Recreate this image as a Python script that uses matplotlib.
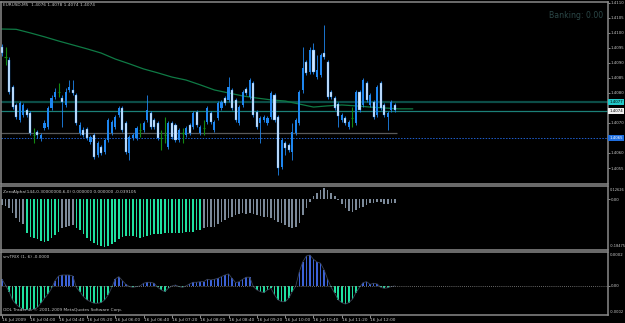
import matplotlib
matplotlib.use("Agg")
import matplotlib.pyplot as plt
import matplotlib.transforms as mtransforms

# EURUSD M5 candles, 16 Jul 2009 03:20 .. 12:35
opens = [1.40953, 1.40920, 1.40910, 1.40820, 1.40760, 1.40710, 1.40727, 1.40743, 1.40733, 1.40660,
         1.40670, 1.40650, 1.40683, 1.40687, 1.40750, 1.40787, 1.40803, 1.40783, 1.40760, 1.40810,
         1.40810, 1.40793, 1.40667, 1.40677, 1.40680, 1.40637, 1.40660, 1.40593, 1.40620, 1.40603,
         1.40643, 1.40667, 1.40687, 1.40727, 1.40750, 1.40700, 1.40600, 1.40650, 1.40650, 1.40677,
         1.40677, 1.40710, 1.40733, 1.40710, 1.40700, 1.40650, 1.40660, 1.40620, 1.40700, 1.40693,
         1.40643, 1.40667, 1.40660, 1.40693, 1.40687, 1.40737, 1.40667, 1.40683, 1.40703, 1.40733,
         1.40677, 1.40717, 1.40750, 1.40783, 1.40777, 1.40810, 1.40777, 1.40700, 1.40760, 1.40813,
         1.40787, 1.40833, 1.40737, 1.40700, 1.40710, 1.40700, 1.40720, 1.40793, 1.40720, 1.40553,
         1.40633, 1.40627, 1.40603, 1.40667, 1.40700, 1.40810, 1.40903, 1.40870, 1.40943, 1.40853,
         1.40860, 1.40933, 1.40903, 1.40803, 1.40783, 1.40763, 1.40710, 1.40717, 1.40687, 1.40717,
         1.40700, 1.40803, 1.40760, 1.40833, 1.40760, 1.40770, 1.40727, 1.40833, 1.40760, 1.40720,
         1.40743, 1.40760]
highs = [1.40963, 1.40953, 1.40920, 1.40827, 1.40767, 1.40773, 1.40767, 1.40750, 1.40740, 1.40683,
         1.40677, 1.40667, 1.40710, 1.40757, 1.40793, 1.40817, 1.40833, 1.40793, 1.40817, 1.40843,
         1.40843, 1.40800, 1.40703, 1.40687, 1.40687, 1.40660, 1.40667, 1.40640, 1.40627, 1.40650,
         1.40717, 1.40710, 1.40727, 1.40757, 1.40757, 1.40707, 1.40660, 1.40667, 1.40690, 1.40700,
         1.40707, 1.40793, 1.40740, 1.40717, 1.40707, 1.40677, 1.40720, 1.40707, 1.40707, 1.40700,
         1.40683, 1.40683, 1.40690, 1.40700, 1.40740, 1.40743, 1.40693, 1.40710, 1.40757, 1.40740,
         1.40710, 1.40773, 1.40777, 1.40790, 1.40853, 1.40817, 1.40783, 1.40760, 1.40810, 1.40820,
         1.40850, 1.40840, 1.40743, 1.40723, 1.40727, 1.40723, 1.40807, 1.40800, 1.40727, 1.40650,
         1.40640, 1.40633, 1.40700, 1.40717, 1.40810, 1.40953, 1.40910, 1.40953, 1.40967, 1.40927,
         1.40933, 1.41027, 1.40910, 1.40810, 1.40790, 1.40770, 1.40733, 1.40723, 1.40710, 1.40753,
         1.40810, 1.40810, 1.40850, 1.40840, 1.40800, 1.40777, 1.40827, 1.40840, 1.40767, 1.40740,
         1.40777, 1.40767]
lows = [1.40923, 1.40893, 1.40797, 1.40747, 1.40713, 1.40703, 1.40720, 1.40720, 1.40660, 1.40633,
        1.40650, 1.40640, 1.40677, 1.40680, 1.40743, 1.40780, 1.40787, 1.40687, 1.40753, 1.40803,
        1.40793, 1.40693, 1.40660, 1.40653, 1.40643, 1.40630, 1.40580, 1.40587, 1.40593, 1.40597,
        1.40637, 1.40660, 1.40680, 1.40720, 1.40670, 1.40597, 1.40577, 1.40643, 1.40643, 1.40653,
        1.40670, 1.40703, 1.40680, 1.40680, 1.40643, 1.40610, 1.40633, 1.40613, 1.40647, 1.40637,
        1.40637, 1.40633, 1.40653, 1.40660, 1.40680, 1.40687, 1.40660, 1.40660, 1.40697, 1.40697,
        1.40670, 1.40710, 1.40743, 1.40760, 1.40770, 1.40743, 1.40703, 1.40693, 1.40753, 1.40793,
        1.40780, 1.40720, 1.40680, 1.40633, 1.40703, 1.40693, 1.40713, 1.40703, 1.40527, 1.40547,
        1.40593, 1.40603, 1.40577, 1.40660, 1.40693, 1.40800, 1.40860, 1.40863, 1.40863, 1.40847,
        1.40853, 1.40913, 1.40780, 1.40780, 1.40743, 1.40687, 1.40703, 1.40693, 1.40680, 1.40687,
        1.40693, 1.40737, 1.40753, 1.40770, 1.40753, 1.40713, 1.40720, 1.40743, 1.40720, 1.40677,
        1.40737, 1.40737]
closes = [1.40933, 1.40920, 1.40803, 1.40753, 1.40720, 1.40767, 1.40760, 1.40727, 1.40667, 1.40660,
          1.40660, 1.40660, 1.40700, 1.40750, 1.40783, 1.40803, 1.40803, 1.40770, 1.40803, 1.40820,
          1.40800, 1.40700, 1.40693, 1.40660, 1.40650, 1.40653, 1.40587, 1.40633, 1.40600, 1.40643,
          1.40710, 1.40703, 1.40720, 1.40750, 1.40677, 1.40603, 1.40653, 1.40660, 1.40683, 1.40677,
          1.40700, 1.40743, 1.40687, 1.40687, 1.40650, 1.40650, 1.40660, 1.40700, 1.40653, 1.40643,
          1.40677, 1.40667, 1.40683, 1.40667, 1.40733, 1.40693, 1.40687, 1.40683, 1.40750, 1.40703,
          1.40703, 1.40767, 1.40770, 1.40767, 1.40820, 1.40750, 1.40710, 1.40753, 1.40803, 1.40800,
          1.40843, 1.40727, 1.40687, 1.40717, 1.40720, 1.40717, 1.40800, 1.40710, 1.40550, 1.40643,
          1.40617, 1.40610, 1.40670, 1.40710, 1.40803, 1.40883, 1.40867, 1.40943, 1.40870, 1.40877,
          1.40927, 1.40920, 1.40787, 1.40787, 1.40750, 1.40723, 1.40727, 1.40700, 1.40703, 1.40717,
          1.40803, 1.40743, 1.40843, 1.40777, 1.40793, 1.40720, 1.40820, 1.40750, 1.40727, 1.40733,
          1.40770, 1.40743]

# shifted moving average, sampled every 4 bars
ma_bars = list(range(0, 117, 4))
ma_values = [1.41013, 1.41012, 1.41000, 1.40987, 1.40973, 1.40960, 1.40947, 1.40933, 1.40913, 1.40897,
             1.40880, 1.40867, 1.40853, 1.40843, 1.40827, 1.40810, 1.40800, 1.40790, 1.40783, 1.40777,
             1.40773, 1.40763, 1.40753, 1.40757, 1.40760, 1.40757, 1.40753, 1.40750, 1.40747, 1.40747]

ask_level = 1.4077
bid_level = 1.4074
gray_level = 1.40667
blue_level = 1.4065
# scale labels that are not hidden under the price boxes
price_ticks = [1.4055, 1.4060, 1.4070, 1.4080, 1.4085, 1.4090, 1.4095, 1.4100, 1.4105, 1.4110]

zero_alpha = [-0.0231, -0.0269, -0.0359, -0.0551, -0.0744, -0.0872, -0.0962, -0.1295, -0.1449, -0.1513,
              -0.1551, -0.1615, -0.1641, -0.1603, -0.1513, -0.1385, -0.1256, -0.1128, -0.1064, -0.1038,
              -0.1000, -0.1128, -0.1192, -0.1346, -0.1513, -0.1615, -0.1705, -0.1769, -0.1808, -0.1833,
              -0.1808, -0.1744, -0.1641, -0.1551, -0.1449, -0.1423, -0.1410, -0.1423, -0.1474, -0.1513,
              -0.1474, -0.1423, -0.1385, -0.1359, -0.1346, -0.1346, -0.1321, -0.1295, -0.1295, -0.1321,
              -0.1295, -0.1295, -0.1269, -0.1282, -0.1256, -0.1192, -0.1192, -0.1128, -0.1064, -0.1064,
              -0.1064, -0.0974, -0.0885, -0.0808, -0.0744, -0.0692, -0.0628, -0.0577, -0.0551, -0.0564,
              -0.0551, -0.0577, -0.0615, -0.0641, -0.0679, -0.0705, -0.0744, -0.0795, -0.0872, -0.0936,
              -0.1013, -0.1064, -0.1128, -0.1090, -0.0910, -0.0615, -0.0359, -0.0103, 0.0115, 0.0244,
              0.0346, 0.0410, 0.0346, 0.0218, 0.0115, -0.0038, -0.0192, -0.0359, -0.0449, -0.0487,
              -0.0423, -0.0359, -0.0295, -0.0231, -0.0167, -0.0167, -0.0103, -0.0103, -0.0192, -0.0205,
              -0.0167, -0.0141]
# which buffer each bar belongs to: 1 = green, 0 = gray
zero_alpha_buffer = [0] * 7 + [1] * 10 + [0] * 4 + [1] * 36 + [0] * 55

trix = [0.000040, 0.000004, -0.000038, -0.000090, -0.000118, -0.000137, -0.000149, -0.000153, -0.000153, -0.000149,
        -0.000137, -0.000111, -0.000080, -0.000053, -0.000017, 0.000032, 0.000061, 0.000067, 0.000067, 0.000067,
        0.000061, -0.000011, -0.000038, -0.000069, -0.000090, -0.000101, -0.000111, -0.000111, -0.000107, -0.000090,
        -0.000059, -0.000011, 0.000042, 0.000057, 0.000032, 0.000008, -0.000006, -0.000011, -0.000006, -0.000002,
        0.000015, 0.000021, 0.000021, 0.000015, -0.000011, -0.000027, -0.000038, -0.000017, -0.000002, 0.000004,
        -0.000006, -0.000011, -0.000002, 0.000011, 0.000021, 0.000021, 0.000025, 0.000025, 0.000040, 0.000036,
        0.000040, 0.000046, 0.000057, 0.000067, 0.000074, 0.000046, 0.000019, 0.000025, 0.000040, 0.000053,
        0.000053, -0.000006, -0.000027, -0.000038, -0.000044, -0.000027, -0.000017, -0.000059, -0.000090, -0.000101,
        -0.000101, -0.000080, -0.000038, -0.000002, 0.000088, 0.000151, 0.000187, 0.000193, 0.000166, 0.000149,
        0.000141, 0.000099, 0.000040, -0.000011, -0.000048, -0.000090, -0.000107, -0.000116, -0.000107, -0.000086,
        -0.000044, -0.000011, 0.000019, 0.000025, 0.000008, 0.000015, 0.000011, -0.000011, -0.000017, -0.000013,
        -0.000006, -0.000002]

time_labels = ["16 Jul 2009", "16 Jul 04:00", "16 Jul 04:40", "16 Jul 05:20", "16 Jul 06:00",
               "16 Jul 06:40", "16 Jul 07:20", "16 Jul 08:00", "16 Jul 08:40", "16 Jul 09:20",
               "16 Jul 10:00", "16 Jul 10:40", "16 Jul 11:20", "16 Jul 12:00"]
bars_per_label = 8

BG = "black"
FG = "#c8c8c8"
EDGE = "#8a8a8a"
BLUE = "#1e86f0"
PALE = "#d6eaff"
DOJI = "#128a12"
GREEN_H = "#1fe0a0"
GRAY_H = "#7d8b9b"
TRIX_UP = "#3c62d6"
FS = 2.8      # right-hand scale labels
FS_T = 3.1    # header / time labels

fig = plt.figure(figsize=(6.25, 3.23), dpi=100, facecolor=BG)
W, H = 625, 323
left, width = 1 / W, 607 / W
ax1 = fig.add_axes([left, (H - 184) / H, width, 182 / H])
ax2 = fig.add_axes([left, (H - 250) / H, width, 64 / H], sharex=ax1)
ax3 = fig.add_axes([left, (H - 315) / H, width, 63 / H], sharex=ax1)

for ax in (ax1, ax2, ax3):
    ax.set_facecolor(BG)
    for s in ax.spines.values():
        s.set_color(EDGE)
        s.set_linewidth(1.1)
    ax.yaxis.tick_right()
    ax.tick_params(axis="y", colors=FG, labelsize=FS, length=1.5, width=0.5, pad=0.6)
    ax.tick_params(axis="x", bottom=False, labelbottom=False)

n = len(opens)
idx = list(range(n))

# main chart
ax1.set_xlim(-0.28, 171.2)
ax1.set_ylim(1.404967, 1.41103)

ax1.axhline(ask_level, color="#0c4d47", lw=1.6, zorder=1)
ax1.axhline(bid_level, color="#1c8078", lw=0.9, zorder=1)
ax1.hlines(gray_level, -0.28, n - 0.5, color="#5a5a5a", lw=0.9, zorder=1)
ax1.axhline(blue_level, color="#1f5fd0", lw=0.7, ls=(0, (1.5, 1.5)), zorder=1)
ax1.plot(ma_bars, ma_values, color="#0f7a45", lw=0.9, zorder=2)

for i in idx:
    o, h, l, c = opens[i], highs[i], lows[i], closes[i]
    if o == c:
        ax1.vlines(i, l, h, color=DOJI, lw=0.8, zorder=3)
        ax1.hlines(o, i - 0.3, i + 0.3, color=DOJI, lw=0.8, zorder=3)
        continue
    ax1.vlines(i, l, h, color=BLUE, lw=0.6, zorder=3)
    if c > o:
        ax1.bar(i, c - o, bottom=o, width=0.6, color=BLUE, lw=0, zorder=4)
    else:
        ax1.bar(i, o - c, bottom=c, width=0.6, color=PALE, edgecolor=BLUE, lw=0.25, zorder=4)

ax1.set_yticks(price_ticks)
ax1.set_yticklabels([f"{p:.4f}" for p in price_ticks])

tr = mtransforms.blended_transform_factory(ax1.transAxes, ax1.transData)
for price, face, txt in [(ask_level, "#22c8c8", "black"), (bid_level, "#f0f0f0", "black"),
                         (blue_level, "#1e6ee0", "white")]:
    ax1.text(1.0022, price, f"{price:.4f}", transform=tr, fontsize=FS, color=txt,
             ha="left", va="center", clip_on=False, zorder=10,
             bbox=dict(boxstyle="square,pad=0.25", fc=face, ec="none"))

fig.text(3 / W, 1 - 5 / H, "EURUSD,M5  1.4076 1.4078 1.4074 1.4074", color=FG,
         fontsize=FS_T, ha="left", va="center")
fig.text(603 / W, 1 - 15 / H, "Banking: 0.00", color="#2c4848", fontsize=5.6,
         ha="right", va="center")

# ZeroAlpha histogram
ax2.set_ylim(-0.196, 0.05)
za_colors = [GREEN_H if b else GRAY_H for b in zero_alpha_buffer]
ax2.bar(idx, zero_alpha, width=0.45, color=za_colors, lw=0)
ax2.set_yticks([0.0])
ax2.set_yticklabels(["0.00"])
ax2.text(1.003, 0.97, "0.12626", transform=ax2.transAxes, fontsize=2.6, color=FG,
         ha="left", va="top", clip_on=False)
ax2.text(1.003, 0.03, "-0.18475", transform=ax2.transAxes, fontsize=2.6, color=FG,
         ha="left", va="bottom", clip_on=False)
ax2.text(0.004, 0.93, "ZeroAlpha(144,0.30000000,6,0) 0.000000 0.000000 -0.039105",
         transform=ax2.transAxes, fontsize=FS_T, color=FG, ha="left", va="top")

# TRIX histogram
ax3.set_ylim(-0.000185, 0.000212)
tx_colors = [TRIX_UP if v > 0 else GREEN_H for v in trix]
ax3.bar(idx, trix, width=0.45, color=tx_colors, lw=0)
ax3.plot(idx, trix, color="#3a4254", lw=0.6)
ax3.axhline(0, color="#8a8a8a", lw=0.6, ls=(0, (1, 1.5)))
ax3.set_yticks([0.0])
ax3.set_yticklabels(["0.00"])
ax3.text(1.003, 0.99, "0.0002", transform=ax3.transAxes, fontsize=FS, color=FG,
         ha="left", va="top", clip_on=False)
ax3.text(1.003, 0.02, "-0.0002", transform=ax3.transAxes, fontsize=2.6, color=FG,
         ha="left", va="bottom", clip_on=False)
ax3.text(0.004, 0.95, "srvTRIX (1, 6) -0.0000", transform=ax3.transAxes,
         fontsize=FS_T, color=FG, ha="left", va="top")
ax3.text(0.004, 0.05, "ODL Trader 4, \u00a9 2001-2009 MetaQuotes Software Corp.",
         transform=ax3.transAxes, fontsize=FS_T, color=FG, ha="left", va="bottom")

label_pos = [k * bars_per_label for k in range(len(time_labels))]
ax3.set_xticks(label_pos)
ax3.set_xticklabels(time_labels, ha="left")
ax3.tick_params(axis="x", bottom=True, labelbottom=True, colors=FG, labelsize=FS_T,
                length=2, width=0.5, pad=0.5)

fig.savefig("out.png", dpi=100, facecolor=BG)
